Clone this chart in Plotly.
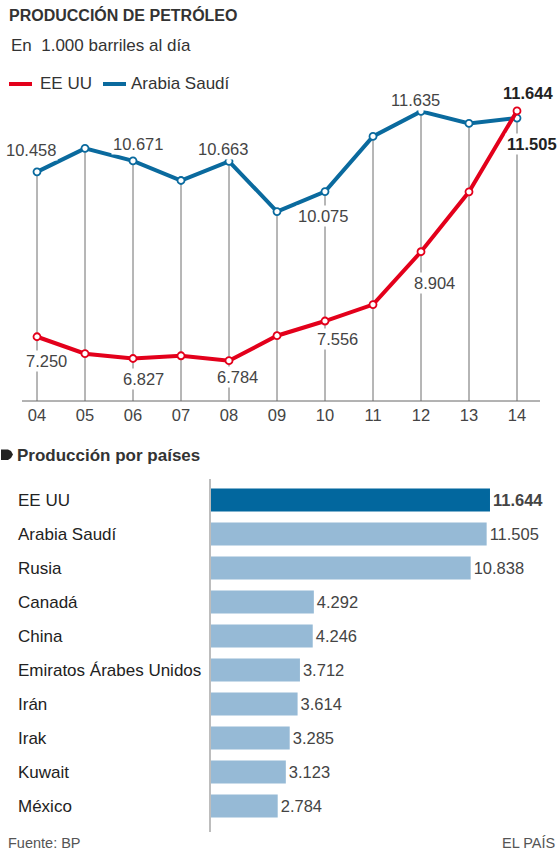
import plotly.graph_objects as go

# ---------------- data ----------------
years = [4, 5, 6, 7, 8, 9, 10, 11, 12, 13, 14]
year_labels = ["04", "05", "06", "07", "08", "09", "10", "11", "12", "13", "14"]
usa = [7.250, 6.92, 6.827, 6.88, 6.784, 7.27, 7.556, 7.876, 8.904, 10.07, 11.644]
saudi = [10.458, 10.915, 10.671, 10.29, 10.663, 9.686, 10.075, 11.148, 11.635, 11.40, 11.505]

countries = ["EE UU", "Arabia Saudí", "Rusia", "Canadá", "China",
             "Emiratos Árabes Unidos", "Irán", "Irak", "Kuwait", "México"]
production = [11.644, 11.505, 10.838, 4.292, 4.246, 3.712, 3.614, 3.285, 3.123, 2.784]

# ---------------- styling ----------------
W, H = 560, 856
FONT = "Liberation Sans, Arial, sans-serif"
RED = "#e3001b"
BLUE = "#0a6a9e"
DARK = "#333333"
TXT = "#444444"
FS = 16.5
FT = 17


def py(pix):
    return 1 - pix / H


def px(pix):
    return pix / W


fig = go.Figure()

# vertical guide lines (axis -> top point)
gx_dark, gy_dark, gx_light, gy_light = [], [], [], []
for i, yr in enumerate(years):
    top = max(usa[i], saudi[i])
    if yr >= 13:
        gx_light += [yr, yr, None]
        gy_light += [6.0, top, None]
    else:
        gx_dark += [yr, yr, None]
        gy_dark += [6.0, top, None]
fig.add_trace(go.Scatter(x=gx_dark, y=gy_dark, mode="lines",
                         line=dict(color="#6e6e6e", width=1),
                         hoverinfo="skip", showlegend=False))
fig.add_trace(go.Scatter(x=gx_light, y=gy_light, mode="lines",
                         line=dict(color="#b5b5b5", width=2),
                         hoverinfo="skip", showlegend=False))

fig.add_trace(go.Scatter(x=years, y=saudi, mode="lines+markers", name="Arabia Saudí",
                         line=dict(color=BLUE, width=4),
                         marker=dict(size=7, color="white", line=dict(color=BLUE, width=1.8)),
                         showlegend=False))
fig.add_trace(go.Scatter(x=years, y=usa, mode="lines+markers", name="EE UU",
                         line=dict(color=RED, width=4),
                         marker=dict(size=7, color="white", line=dict(color=RED, width=1.8)),
                         showlegend=False))

# bars
bar_colors = ["#02679e"] + ["#96bad6"] * (len(countries) - 1)
templates = ["<b>%{x:.3f}</b>"] + ["%{x:.3f}"] * (len(countries) - 1)
fig.add_trace(go.Bar(x=production, y=countries, orientation="h",
                     marker=dict(color=bar_colors, line=dict(width=0)),
                     width=0.68, texttemplate=templates, textposition="outside",
                     textfont=dict(size=FS, color=TXT, family=FONT),
                     cliponaxis=False,
                     xaxis="x2", yaxis="y2", showlegend=False, hoverinfo="skip"))

# ---------------- line chart labels ----------------
# (series, index, dx, dy, bold) -- pixel offsets of each value label
label_spots = [
    ("s", 0, -6, -22, False), ("s", 2, 5, -17, False), ("s", 4, -6, -12, False),
    ("s", 6, -2, 24, False), ("s", 8, -6, -11, False), ("s", 10, 15, 26, True),
    ("u", 0, 9, 24, False), ("u", 2, 10, 21, False), ("u", 4, 8, 16, False),
    ("u", 6, 12, 18, False), ("u", 8, 13, 31, False), ("u", 10, 11, -18, True),
]
annotations = []
for ser, i, dx, dy, bold in label_spots:
    val = saudi[i] if ser == "s" else usa[i]
    t = f"{val:.3f}"
    if bold:
        t = f"<b>{t}</b>"
    annotations.append(dict(x=years[i], y=val, xref="x", yref="y", text=t,
                            showarrow=False, xshift=dx, yshift=-dy,
                            bgcolor="white", borderpad=1,
                            font=dict(size=FS, color="#222" if bold else TXT, family=FONT)))

# titles
annotations += [
    dict(x=px(7), y=py(15), xref="paper", yref="paper", xanchor="left", yanchor="middle",
         text="<b>PRODUCCIÓN DE PETRÓLEO</b>", showarrow=False,
         font=dict(size=16, color=DARK, family=FONT)),
    dict(x=px(9), y=py(45), xref="paper", yref="paper", xanchor="left", yanchor="middle",
         text="En  1.000 barriles al día", showarrow=False,
         font=dict(size=FT, color=DARK, family=FONT)),
    dict(x=px(38), y=py(84), xref="paper", yref="paper", xanchor="left", yanchor="middle",
         text="EE UU", showarrow=False, font=dict(size=FT, color=DARK, family=FONT)),
    dict(x=px(129), y=py(84), xref="paper", yref="paper", xanchor="left", yanchor="middle",
         text="Arabia Saudí", showarrow=False, font=dict(size=FT, color=DARK, family=FONT)),
    dict(x=px(15), y=py(455), xref="paper", yref="paper", xanchor="left", yanchor="middle",
         text="<b>Producción por países</b>", showarrow=False,
         font=dict(size=17, color=DARK, family=FONT)),
    dict(x=px(6), y=py(843), xref="paper", yref="paper", xanchor="left", yanchor="middle",
         text="Fuente: BP", showarrow=False, font=dict(size=14.5, color="#555", family=FONT)),
    dict(x=px(557), y=py(843), xref="paper", yref="paper", xanchor="right", yanchor="middle",
         text="EL PAÍS", showarrow=False, font=dict(size=14.5, color="#555", family=FONT)),
]
# category labels (left-aligned)
for c in countries:
    annotations.append(dict(x=px(16), y=c, xref="paper", yref="y2", xanchor="left",
                            yanchor="middle", text=c, showarrow=False,
                            font=dict(size=FT, color="#222", family=FONT)))


def ppath(points):
    segs = []
    for k, (a, b) in enumerate(points):
        segs.append(("M" if k == 0 else "L") + f"{px(a):.5f},{py(b):.5f}")
    return " ".join(segs) + " Z"


shapes = [
    dict(type="line", xref="paper", yref="paper", x0=px(9), x1=px(32), y0=py(84), y1=py(84),
         line=dict(color=RED, width=4)),
    dict(type="line", xref="paper", yref="paper", x0=px(103), x1=px(126), y0=py(84), y1=py(84),
         line=dict(color=BLUE, width=4)),
    # bullet before section title
    dict(type="path", xref="paper", yref="paper",
         path=ppath([(1, 449.5), (8, 449.5), (11, 451), (13, 454.5), (11, 458), (8, 460),
                     (1, 460)]),
         fillcolor="#222", line=dict(width=0)),
]

# axis geometry
x_left, x_right = 22, 540
x_rng = [4 - (37 - x_left) / 48, 14 + (x_right - 517) / 48]
y_top, y_base = 90, 401
ppu = 51.4
y_rng = [6.0, 6.0 + (y_base - y_top) / ppu]

bar_top, bar_bot = 479, 832
band = 34
b_rng = [len(countries) - 0.5 + (bar_bot - (500 + band * 9 + band / 2)) / band,
         -0.5 - ((500 - band / 2) - bar_top) / band]
bx0 = 211
bppu = 23.96

fig.update_layout(
    width=W, height=H, margin=dict(l=0, r=0, t=0, b=0),
    paper_bgcolor="white", plot_bgcolor="rgba(0,0,0,0)",
    font=dict(family=FONT, size=FS, color=TXT),
    showlegend=False,
    xaxis=dict(domain=[px(x_left), px(x_right)], range=x_rng, tickvals=years,
               ticktext=year_labels, showgrid=False, zeroline=False, showline=False,
               ticks="", ticklabelstandoff=2,
               tickfont=dict(size=FS, color=TXT, family=FONT)),
    yaxis=dict(domain=[py(y_base), py(y_top)], range=y_rng, showgrid=False,
               zeroline=False, showticklabels=False, showline=False),
    xaxis2=dict(domain=[px(bx0), 1], range=[0, (W - bx0) / bppu], anchor="y2",
                showgrid=False, zeroline=False, showticklabels=False, showline=False),
    yaxis2=dict(domain=[py(bar_bot), py(bar_top)], range=b_rng, anchor="x2",
                showgrid=False, zeroline=False, showticklabels=False,
                showline=True, linecolor="#bdbdbd", linewidth=2, ticks=""),
    annotations=annotations,
    shapes=shapes + [dict(type="line", xref="paper", yref="paper", x0=px(x_left), x1=px(x_right),
                          y0=py(y_base), y1=py(y_base), line=dict(color="#666", width=1))],
)

fig.write_html("out.html", config={"displayModeBar": False},
               post_script="document.body.style.margin='0';")
